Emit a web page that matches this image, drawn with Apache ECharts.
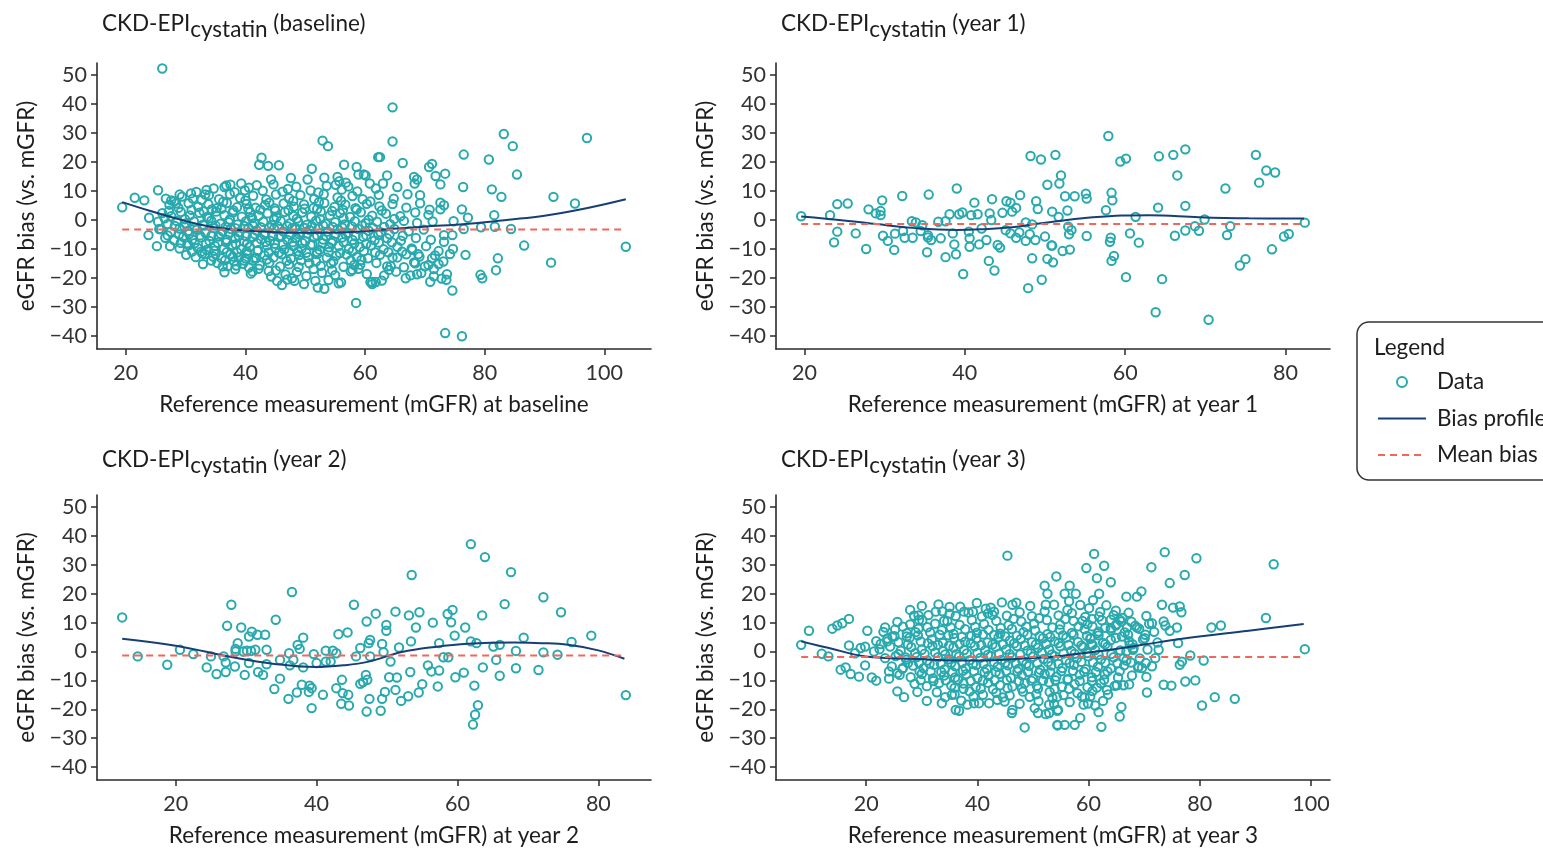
<!DOCTYPE html>
<html>
<head>
<meta charset="utf-8">
<title>CKD-EPI cystatin bias profiles</title>
<script src="https://cdn.jsdelivr.net/npm/echarts@6/dist/echarts.min.js"></script>
<style>
  html, body { margin: 0; padding: 0; background: #ffffff; }
  #chart { width: 1543px; height: 848px; }
</style>
</head>
<body>
<div id="chart"></div>
<script>
// ---- visit labels ----------------------------------------------------------
const visitLabels = ['(baseline)', '(year 1)', '(year 2)', '(year 3)'];
const xAxisTitles = [
  'Reference measurement (mGFR) at baseline',
  'Reference measurement (mGFR) at year 1',
  'Reference measurement (mGFR) at year 2',
  'Reference measurement (mGFR) at year 3'
];
const yAxisTitle = 'eGFR bias (vs. mGFR)';

// ---- tick labels -----------------------------------------------------------
const yTicks = [-40, -30, -20, -10, 0, 10, 20, 30, 40, 50];
const xTicksBaseline = [20, 40, 60, 80, 100];
const xTicksYear1 = [20, 40, 60, 80];
const xTicksYear2 = [20, 40, 60, 80];
const xTicksYear3 = [20, 40, 60, 80, 100];

// ---- [mGFR, bias] pairs per visit --------------------------------------------
const pointsBaseline = [
  [26.1,52.3],[19.4,4.4],[21.5,7.7],[23.1,6.8],[25.4,10.3],[23.9,0.8],[23.8,-5.2],[25.2,-9.0],[25.6,-3.1],
  [26.7,7.4],[27.6,6.8],[29.0,8.8],[28.4,5.7],[31.8,9.7],[33.3,8.8],[36.5,11.4],[37.5,12.2],[39.3,12.6],[39.9,10.3],
  [30.3,-8.0],[32.8,-11.5],[35.0,-11.8],[36.2,-16.0],[37.9,-12.6],[38.5,-15.7],[40.0,-13.2],[40.6,-16.4],[41.2,-17.8],
  [41.5,-13.2],[42.7,21.5],[42.3,19.1],[43.8,18.7],[45.6,18.9],[44.3,14.0],[47.6,14.5],[50.4,14.0],[51.1,17.7],
  [53.2,14.6],[52.9,27.4],[53.8,25.5],[56.5,19.1],[58.6,18.3],[58.9,15.7],[59.8,15.7],[60.1,15.4],[55.4,14.9],
  [55.7,13.4],[56.8,12.9],[55.1,12.2],[62.2,21.7],[44.3,-19.5],[46.1,-22.4],[47.8,-20.1],[48.2,-21.0],[51.7,-21.0],
  [52.1,-23.3],[53.2,-23.7],[55.6,-21.8],[58.5,-28.6],[57.9,-17.2],[58.2,-15.5],[60.9,-21.4],[61.2,-22.1],
  [64.6,38.9],[64.6,27.1],[62.5,21.7],[66.3,19.7],[70.7,18.3],[71.2,19.4],[71.8,15.2],[73.4,16.0],[72.6,12.3],
  [68.2,14.9],[68.7,14.0],[68.3,12.6],[63.7,15.4],[63.0,12.6],[61.8,10.9],[65.4,11.4],[69.2,8.6],[76.5,22.6],
  [80.7,20.9],[83.2,29.7],[84.7,25.5],[85.4,15.7],[76.4,11.4],[81.2,10.6],[82.8,8.0],[97.1,28.3],[91.5,8.0],
  [95.1,5.7],[103.6,-9.2],[86.6,-8.8],[91.1,-14.7],[82.2,-13.2],[81.9,-17.3],[79.3,-18.9],[79.6,-20.1],[76.8,-12.0],
  [74.6,-24.3],[73.6,-20.6],[73.7,-18.7],[73.4,-39.0],[76.2,-40.1],[81.6,1.7],[81.7,-2.3],[84.4,-3.1],[79.4,-2.5],
  [77.2,0.8],[76.2,3.7],[74.8,-0.4],[76.5,-3.1],[72.6,6.0],[73.2,5.1],[70.8,3.6],[72.6,3.7],[73.2,-5.2],[74.6,-5.2],
  [74.2,-11.7],[74.7,-10.0],[73.2,-7.5],[72.3,-10.7],[70.6,-15.5],[71.5,-16.9],[71.2,-13.2],[73.1,-14.3],[66.8,-20.1],
  [67.6,-19.1],[68.7,-18.7],[61.2,-21.4],[61.8,-21.4],[64.0,-17.2],[63.7,-16.0],[68.4,-14.9],[68.9,-11.8],[67.9,-10.3],
  [66.2,-10.9],[65.4,-12.9],
  [33.5,10.4],[36.8,11.9],[38.2,9.6],[40.6,11.2],[42.9,10.1],[44.7,12.3],[46.2,9.8],[48.5,11.5],[50.9,10.2],
  [53.6,11.8],[56.1,10.5],[58.7,9.9],[60.8,12.6],
  [30.9,9.2],[34.7,10.9],[41.9,12.0],[47.1,10.7],[52.2,9.5],[57.2,11.6],
  [29.4,8.1],[31.2,7.4],[33.9,8.6],[35.6,7.2],[37.4,8.9],[39.1,7.6],[41.3,8.4],[43.5,7.1],[45.1,8.8],[47.3,7.5],
  [49.2,8.6],[51.5,7.3],[53.1,8.9],[55.4,7.8],[57.9,8.3],[59.6,7.2],[62.3,8.7],[64.8,7.4],[67.1,8.9],
  [28.1,6.4],[32.7,6.9],[36.3,6.3],[40.0,6.8],[44.0,6.0],[48.0,6.6],[52.3,6.2],[56.0,6.7],[60.9,6.4],
  [27.3,5.3],[28.8,4.2],[30.5,5.8],[32.1,4.6],[33.8,5.5],[35.2,4.1],[36.9,5.9],[38.6,4.4],[40.2,5.6],[41.7,4.3],
  [43.3,5.2],[44.9,4.0],[46.4,5.7],[48.1,4.6],[49.8,5.4],[51.4,4.2],[53.2,5.9],[54.9,4.5],[56.7,5.3],[58.4,4.1],
  [60.3,5.6],[62.4,4.7],[64.6,5.5],[66.9,4.3],[69.2,5.8],
  [27.2,3.1],[33.0,3.0],[36.0,3.9],[40.5,3.8],[45.0,3.2],[49.9,3.9],[54.5,3.1],[58.6,3.6],[62.8,3.3],
  [26.1,2.4],[27.6,1.3],[29.2,2.8],[30.7,1.6],[32.3,2.5],[33.6,1.1],[35.1,2.9],[36.5,1.7],[37.9,2.6],[39.4,1.2],
  [40.8,2.7],[42.2,1.5],[43.7,2.3],[45.2,1.0],[46.6,2.8],[48.0,1.4],[49.5,2.6],[51.0,1.2],[52.6,2.9],[54.1,1.6],
  [55.8,2.4],[57.5,1.1],[59.3,2.7],[61.2,1.5],[63.5,2.2],[65.9,1.3],[68.4,2.6],[70.6,1.8],
  [31.0,3.5],[34.4,3.7],[38.0,3.3],[42.5,3.6],[47.2,3.4],[52.0,3.8],[56.3,3.5],
  [26.5,0.6],[29.9,0.3],[33.9,0.6],[37.4,0.2],[41.1,0.7],[44.8,0.1],[48.6,0.5],[52.5,0.3],[56.4,0.6],[60.6,0.1],[64.9,0.4],
  [25.4,-0.6],[27.0,-1.4],[28.5,-0.3],[30.0,-1.2],[31.4,-0.5],[32.9,-1.6],[34.3,-0.2],[35.8,-1.3],[37.2,-0.7],
  [38.7,-1.5],[40.1,-0.4],[41.5,-1.1],[43.0,-0.6],[44.4,-1.7],[45.9,-0.3],[47.4,-1.2],[48.8,-0.5],[50.3,-1.6],
  [51.8,-0.2],[53.4,-1.3],[55.0,-0.7],[56.6,-1.5],[58.3,-0.4],[60.1,-1.1],[62.0,-0.6],[64.2,-1.4],[66.5,-0.3],
  [68.7,-1.0],[71.3,-0.5],
  [29.8,-2.2],[33.1,-1.9],[36.7,-2.4],[39.8,-2.0],[42.6,-2.5],[45.4,-2.1],[48.3,-2.6],[51.1,-2.0],[54.6,-2.4],
  [57.8,-2.2],[61.3,-2.7],
  [28.2,-2.0],[31.5,-2.6],[35.0,-1.9],[38.3,-2.8],[41.2,-1.8],[44.0,-2.6],[47.0,-2.1],[49.9,-2.7],[53.0,-1.9],
  [56.2,-2.6],[59.5,-1.9],[63.2,-2.4],
  [25.9,-3.2],[27.5,-4.1],[29.0,-2.9],[30.4,-3.8],[31.9,-3.3],[33.3,-4.4],[34.8,-2.8],[36.2,-3.9],[37.6,-3.1],
  [39.0,-4.2],[40.5,-2.7],[41.9,-3.6],[43.3,-4.5],[44.8,-3.0],[46.3,-3.9],[47.8,-2.8],[49.2,-4.3],[50.7,-3.4],
  [52.2,-2.9],[53.8,-4.0],[55.4,-3.2],[57.1,-4.4],[58.8,-3.0],[60.6,-3.7],[62.6,-4.2],[64.9,-3.1],[67.3,-3.9],
  [69.8,-3.3],
  [28.9,-5.0],[32.4,-5.3],[35.9,-4.8],[38.9,-5.4],[41.6,-4.9],[44.6,-5.5],[47.5,-5.1],[50.4,-4.7],[53.5,-5.6],
  [56.8,-5.0],[60.2,-5.3],[64.1,-4.9],
  [27.0,-5.3],[30.6,-4.8],[34.3,-5.5],[37.3,-4.7],[40.1,-5.6],[43.1,-5.0],[46.0,-5.6],[49.0,-4.9],[52.0,-5.3],
  [55.1,-4.8],[58.4,-5.6],[62.2,-5.1],[66.3,-5.4],
  [26.6,-6.1],[28.1,-7.0],[29.6,-5.8],[31.1,-6.7],[32.6,-6.0],[34.0,-7.2],[35.5,-5.7],[36.9,-6.8],[38.3,-6.2],
  [39.8,-7.4],[41.2,-5.9],[42.6,-6.6],[44.1,-7.1],[45.6,-5.8],[47.0,-6.9],[48.5,-6.1],[50.0,-7.3],[51.5,-5.9],
  [53.0,-6.7],[54.6,-7.2],[56.2,-6.0],[57.9,-6.9],[59.7,-5.8],[61.6,-7.0],[63.7,-6.3],[66.0,-7.1],[68.5,-6.2],
  [71.0,-6.8],
  [31.5,-8.0],[35.4,-7.8],[38.4,-8.3],[41.9,-7.9],[44.9,-8.2],[47.9,-7.7],[51.2,-8.4],[54.4,-7.9],[58.2,-8.1],
  [62.3,-7.8],
  [29.2,-7.9],[33.4,-8.2],[36.8,-7.7],[40.3,-8.1],[43.4,-7.6],[46.3,-8.4],[49.5,-7.9],[52.9,-8.0],[56.4,-7.6],
  [60.2,-8.3],[64.5,-7.7],
  [27.4,-9.0],[29.0,-9.8],[30.5,-8.7],[32.0,-9.6],[33.5,-10.3],[34.9,-8.9],[36.4,-9.9],[37.8,-8.6],[39.3,-10.1],
  [40.7,-9.2],[42.1,-10.4],[43.6,-8.8],[45.0,-9.7],[46.5,-10.2],[48.0,-9.0],[49.4,-9.9],[50.9,-8.7],[52.4,-10.3],
  [54.0,-9.4],[55.6,-8.9],[57.3,-10.0],[59.1,-9.3],[61.0,-8.8],[63.1,-10.1],[65.4,-9.2],[67.8,-9.8],[70.2,-9.0],
  [32.6,-10.9],[36.9,-11.1],[40.2,-10.8],[43.9,-11.2],[47.3,-10.9],[50.2,-11.3],[53.9,-11.0],[57.9,-10.8],[61.7,-11.2],
  [31.1,-10.9],[34.8,-10.6],[38.6,-11.2],[42.0,-10.7],[45.6,-11.3],[48.8,-10.8],[52.0,-11.0],[55.8,-11.4],
  [59.8,-10.7],[63.9,-11.1],
  [30.1,-12.0],[31.7,-12.8],[33.2,-11.7],[34.6,-12.6],[36.0,-13.2],[37.5,-11.9],[38.9,-12.9],[40.3,-11.6],
  [41.8,-13.1],[43.2,-12.2],[44.7,-12.9],[46.1,-11.8],[47.6,-13.3],[49.0,-12.1],[50.5,-12.8],[52.0,-11.7],
  [53.6,-13.0],[55.2,-12.3],[56.9,-11.9],[58.6,-12.7],[60.5,-13.2],[62.5,-12.0],[64.6,-12.9],[66.9,-11.8],
  [69.1,-12.6],[71.7,-12.2],
  [34.3,-14.0],[38.1,-14.2],[41.3,-13.9],[46.9,-14.1],[51.8,-14.3],[57.6,-13.9],
  [36.6,-13.9],[39.8,-14.0],[43.6,-13.6],[49.3,-13.9],[54.7,-14.2],[59.4,-13.8],
  [32.9,-15.2],[35.3,-14.8],[37.0,-15.9],[39.6,-15.1],[42.4,-15.6],[44.0,-14.7],[45.8,-16.0],[47.3,-15.3],
  [48.9,-16.2],[50.7,-14.9],[52.6,-15.8],[54.3,-15.0],[56.4,-16.1],[59.2,-15.4],[61.9,-14.8],[64.3,-15.9],
  [66.5,-16.3],[68.2,-14.6],[70.0,-16.0],[72.3,-15.2],
  [38.3,-17.0],[42.2,-16.8],[45.1,-17.4],[51.4,-16.9],[54.5,-17.3],[58.9,-16.8],
  [36.5,-18.0],[40.9,-18.5],[43.9,-17.6],[46.7,-18.8],[48.6,-17.9],[50.2,-19.3],[52.8,-18.2],[55.0,-19.0],
  [57.6,-17.7],[60.3,-18.6],[63.2,-19.1],[65.2,-17.8],[69.4,-18.3],[71.5,-19.4],
  [45.3,-21.0],[47.0,-20.5],[49.8,-22.1],[53.9,-20.7],[56.0,-21.5],[62.8,-20.9],[70.9,-21.3],[72.8,-20.2]
];

const pointsYear1 = [
  [19.6,1.3],[23.2,1.7],[24.1,5.5],[25.4,5.7],[24.1,-4.0],[23.7,-7.7],[26.4,-4.6],[27.7,-10.0],[28.0,3.7],
  [28.9,2.3],[29.5,3.1],[29.5,1.7],[29.7,6.8],[29.8,-5.4],[30.4,-7.2],[31.3,-4.7],[31.2,-10.3],[32.2,8.3],
  [32.5,-6.1],[33.5,-6.1],[32.3,-3.8],[33.4,-0.4],[33.9,-0.8],[34.7,-1.8],[34.5,-3.8],[35.4,-5.2],[35.8,-6.9],
  [35.4,-6.0],[37.0,-6.3],[36.7,-0.6],[37.6,-0.4],[38.1,2.0],[39.3,2.0],[39.7,2.6],[40.8,1.7],[41.6,2.0],
  [35.5,8.8],[39.0,10.9],[35.3,-11.1],[37.6,-12.8],[38.9,-11.8],[39.8,-18.6],[38.5,-4.6],[38.7,-8.4],[40.5,-4.0],
  [40.6,-6.3],[40.6,-9.2],[41.8,-8.4],[41.2,6.0],[42.1,-2.9],[42.7,-6.9],[43.0,-14.1],[43.7,-17.4],[44.1,-8.6],
  [44.4,-9.5],[43.1,2.3],[43.3,0.0],[43.4,7.2],[44.7,2.5],[45.2,6.5],[45.7,6.0],[45.9,2.9],[46.4,4.2],[46.9,8.6],
  [45.1,-3.5],[45.7,-4.6],[46.4,-6.1],[46.8,-4.3],[47.6,-7.2],[47.6,-0.8],[48.4,-1.5],[48.1,-4.9],[48.8,-6.9],
  [48.9,6.5],[49.1,3.8],[50.0,-5.7],[50.8,-8.8],[50.9,2.9],[48.2,22.1],[49.5,20.9],[51.3,22.5],[50.3,12.2],
  [48.4,-13.2],[50.3,-13.4],[51.0,-14.6],[49.6,-20.6],[47.9,-23.5],
  [57.9,29.0],[59.4,20.2],[60.1,21.2],[64.2,22.0],[66.0,22.5],[67.5,24.4],[66.5,15.4],[76.3,22.5],[77.6,17.1],
  [78.7,16.4],[76.7,12.9],[72.5,10.9],[52.0,15.4],[51.8,12.6],[52.5,8.2],[53.7,8.2],[55.1,9.1],[55.2,7.4],
  [58.3,9.4],[58.4,6.8],[51.7,1.1],[52.8,3.3],[57.6,3.4],[61.3,1.1],[64.1,4.3],[67.5,4.9],[69.9,0.2],[68.7,-2.1],
  [69.2,-3.7],[67.5,-3.6],[66.2,-5.4],[73.1,-2.1],[72.7,-5.2],[82.4,-0.9],[80.4,-4.8],[79.8,-5.7],[78.3,-10.1],
  [75.0,-13.5],[74.3,-15.7],[60.6,-4.6],[61.7,-7.8],[55.2,-5.5],[53.0,-4.9],[53.3,-3.5],[52.9,-2.3],[50.9,-8.8],
  [52.2,-10.7],[53.1,-10.2],[58.2,-6.1],[58.1,-7.5],[58.6,-12.4],[58.3,-14.1],[60.1,-19.7],[64.6,-20.4],
  [63.8,-31.8],[70.4,-34.4]
];

const pointsYear2 = [
  [12.4,11.8],[14.6,-1.7],[18.8,-4.6],[20.6,0.6],[22.5,-0.9],[24.4,-5.5],[25.8,-7.8],[27.1,-7.1],[27.1,-3.8],
  [28.4,-5.2],[25.0,-1.7],[26.8,-1.7],[27.3,8.9],[27.9,16.2],[29.3,8.3],[28.8,2.9],[28.5,0.9],[28.5,0.0],[29.6,0.0],
  [30.1,0.3],[30.7,0.2],[31.3,0.6],[30.4,5.2],[30.8,6.9],[31.6,5.8],[32.7,5.8],[32.9,0.6],[30.4,-4.0],[29.8,-8.1],
  [31.7,-7.1],[32.4,-8.1],[32.9,-4.4],[34.2,11.0],[34.8,-2.9],[36.1,-0.6],[36.7,-2.9],[36.2,-4.8],[36.5,20.6],
  [34.0,-13.0],[34.8,-9.4],[36.0,-16.4],[37.2,-14.2],[37.9,-11.5],[39.0,-11.8],[39.3,-12.7],[38.9,-14.0],
  [39.3,-19.6],[38.1,-5.5],[38.1,4.8],[37.3,2.3],[37.6,0.9],[39.6,-0.9],[40.0,-4.0],[40.9,-15.0],[41.3,0.3],
  [41.3,-3.5],[42.0,-3.5],[42.3,0.3],[42.8,-0.6],[43.1,6.0],[42.8,-12.7],[43.6,-9.8],[43.7,-14.4],[44.5,-15.0],
  [43.5,-18.1],[44.6,-18.7],[44.4,6.6],[45.3,16.2],[45.6,-1.7],[46.2,1.2],[47.1,10.4],[47.2,-9.8],[46.6,-10.6],
  [46.2,-11.2],[47.0,-8.1],[47.4,2.9],[47.6,4.0],[47.5,-16.4],[47.1,-20.8],[47.6,-1.7],
  [61.9,37.2],[63.9,32.7],[67.6,27.5],[53.5,26.5],[72.2,18.8],[74.7,13.6],[79.0,5.5],[76.2,3.3],[66.7,16.4],
  [63.5,12.5],[59.3,14.4],[58.6,13.0],[59.1,10.1],[56.5,10.0],[54.6,13.6],[53.1,12.5],[51.2,13.8],[48.4,13.1],
  [54.1,8.3],[61.1,8.3],[59.6,5.5],[57.4,2.9],[53.4,3.5],[49.9,9.2],[49.9,7.2],[49.3,2.6],[49.5,-0.2],[51.7,1.4],
  [61.9,3.5],[62.7,2.9],[65.1,1.7],[66.0,2.3],[69.4,4.8],[68.3,0.2],[72.2,-0.3],[74.2,-1.1],[50.5,-3.5],[58.0,-2.0],
  [58.7,-2.0],[65.5,-2.9],[55.8,-4.8],[56.3,-6.9],[57.4,-6.6],[53.3,-7.1],[50.3,-8.9],[51.4,-9.0],[59.7,-8.9],
  [60.9,-7.3],[63.6,-5.5],[66.0,-8.4],[68.3,-5.8],[71.5,-6.4],[62.4,-11.8],[57.2,-12.1],[55.0,-11.3],[54.5,-14.2],
  [49.7,-14.0],[51.2,-13.3],[52.0,-17.1],[53.0,-15.5],[49.3,-16.4],[49.1,-20.5],[62.9,-18.6],[62.5,-21.9],
  [62.2,-25.3],[83.9,-15.1]
];

const pointsYear3 = [
  [8.3,2.3],[9.7,7.2],[12.0,-0.8],[13.2,-1.7],[13.9,7.9],[14.8,9.0],[15.7,9.8],[16.9,11.3],[16.9,2.1],[18.0,-0.6],
  [19.0,1.2],[19.8,1.7],[20.2,7.2],[15.4,-6.3],[16.3,-5.5],[17.2,-7.8],[18.7,-8.7],[19.8,-4.8],[21.0,-9.0],
  [21.8,-10.1],[21.4,0.0],[23.4,8.3],[22.6,2.6],[23.8,3.5],[24.7,5.2],[24.1,-6.9],[24.1,-9.4],[25.6,-13.8],
  [26.8,-15.8],[25.6,-7.5],[27.1,-2.1],[26.6,-5.7],[27.9,14.4],[30.0,15.8],[29.4,12.5],[29.5,11.0],[27.3,5.2],
  [28.9,6.7],[32.5,13.8],[35.0,15.4],[34.0,10.6],[29.2,-14.0],[30.9,-17.1],[33.6,-17.9],[36.1,-20.2],[36.7,-20.5],
  [35.4,-15.0],[37.6,13.8],[39.2,13.8],[41.5,14.8],[42.7,12.7],[44.4,17.0],[46.3,16.2],[45.4,33.2],[38.2,-18.4],
  [39.4,-17.9],[42.1,-17.9],[43.6,-16.7],[46.3,-20.2],[46.2,-21.3],[48.5,-26.3],[50.3,-19.6],[50.9,-21.3],
  [52.3,-21.7],[52.9,-18.4],[54.4,-25.4],[54.4,-20.5],[52.1,22.8],[52.6,20.0],[54.2,26.0],[52.3,16.2],[53.8,16.2],
  [61.0,33.8],[73.7,34.4],[79.4,32.3],[93.3,30.2],[59.6,28.9],[62.8,29.7],[71.3,29.2],[61.5,25.4],[64.0,24.0],
  [77.3,26.5],[74.6,23.7],[56.6,22.8],[55.7,20.0],[57.7,20.0],[61.9,20.0],[66.8,19.0],[68.7,19.0],[69.5,20.8],
  [73.2,16.2],[75.2,15.2],[76.4,15.6],[76.7,13.6],[64.9,14.1],[60.1,15.0],[56.2,14.4],[82.1,8.3],[83.8,9.0],
  [91.9,11.6],[98.9,0.8],[75.9,8.3],[73.8,9.0],[71.4,9.8],[70.2,5.8],[70.1,4.6],[68.7,8.3],[66.9,8.3],[65.6,11.0],
  [64.0,11.0],[64.0,8.1],[61.9,12.1],[58.9,10.6],[60.7,8.7],[61.8,6.9],[60.4,4.6],[60.7,2.3],[64.0,4.0],[64.9,9.0],
  [65.9,10.4],[67.1,5.8],[67.9,2.5],[76.1,2.9],[72.6,0.6],[72.0,-2.3],[78.3,-1.4],[80.7,-3.1],[76.8,-3.5],
  [76.4,-4.6],[69.6,-5.7],[69.0,-5.2],[70.3,-4.0],[68.0,0.6],[66.3,-2.3],[66.8,0.0],[73.5,-11.5],[74.9,-11.8],
  [77.4,-10.4],[79.2,-10.0],[80.4,-18.7],[82.7,-15.8],[86.3,-16.4],[70.5,-14.2],[63.3,-13.3],[65.1,-11.7],
  [66.3,-11.7],[65.9,-19.2],[65.6,-22.5],[61.8,-21.0],[61.2,-18.7],[58.8,-15.6],[60.3,-15.6],[59.1,-18.4],
  [58.5,-23.0],[57.5,-25.4],[55.7,-25.4],[54.4,-25.6],[54.5,-20.2],[62.3,-26.1],[52.9,-21.3],[53.5,-16.1],
  [31.2,12.6],[33.7,13.9],[36.1,12.3],[38.4,13.5],[40.8,12.1],[43.0,13.8],[45.3,12.4],[47.6,13.6],[49.8,12.2],
  [52.1,13.9],[54.6,12.5],[57.0,13.3],[59.4,12.0],[62.1,13.7],[64.5,12.6],[67.2,13.4],[70.4,12.3],
  [28.6,12.4],[35.0,13.1],[41.9,13.2],[46.5,11.3],[51.1,11.5],[55.8,11.2],[60.6,11.3],[66.1,11.6],
  [25.6,10.2],[27.9,9.4],[30.1,10.8],[32.4,9.6],[34.6,10.5],[36.8,9.2],[39.0,10.9],[41.2,9.5],[43.4,10.6],
  [45.6,9.1],[47.9,10.4],[50.2,9.7],[52.5,10.9],[54.9,9.3],[57.3,10.6],[59.8,9.5],[62.4,10.8],[65.0,9.4],
  [67.7,10.3],[70.9,9.6],[73.5,10.4],
  [26.6,8.6],[31.0,8.4],[35.2,8.3],[39.6,8.5],[44.2,8.2],[48.8,8.6],[53.5,8.3],[58.2,8.7],[63.0,8.2],[68.4,8.9],
  [23.1,6.8],[25.2,7.6],[27.3,6.3],[29.4,7.9],[31.5,6.6],[33.6,7.4],[35.7,6.1],[37.8,7.7],[39.9,6.5],[42.0,7.5],
  [44.1,6.2],[46.2,7.8],[48.3,6.7],[50.4,7.3],[52.6,6.0],[54.8,7.6],[57.0,6.4],[59.3,7.7],[61.6,6.3],[64.0,7.4],
  [66.5,6.6],[69.1,7.9],[71.8,6.8],[74.6,7.2],
  [34.8,5.6],[38.9,5.4],[43.0,5.7],[47.1,5.5],[51.2,5.3],[55.4,5.6],[59.7,5.4],
  [25.1,5.3],[29.3,5.6],[33.2,5.8],[37.2,5.0],[41.0,5.9],[45.0,5.2],[49.0,5.8],[53.1,5.0],[57.3,5.8],[61.8,5.6],[66.0,5.2],
  [21.8,3.6],[23.8,4.5],[25.8,3.2],[27.8,4.8],[29.8,3.5],[31.8,4.2],[33.8,3.0],[35.8,4.7],[37.8,3.4],[39.8,4.5],
  [41.8,3.1],[43.8,4.9],[45.8,3.7],[47.8,4.3],[49.8,3.2],[51.8,4.6],[53.9,3.5],[56.0,4.8],[58.1,3.3],[60.3,4.4],
  [62.6,3.0],[64.9,4.7],[67.3,3.6],[69.8,4.2],[72.4,3.1],
  [32.9,2.3],[36.8,2.6],[40.7,2.2],[44.6,2.5],[48.5,2.1],[52.4,2.6],[56.4,2.3],[60.5,2.5],
  [27.5,2.4],[31.1,2.9],[34.9,2.0],[38.8,2.9],[42.7,2.4],[46.6,2.8],[50.5,2.4],[54.6,2.9],[58.7,2.1],[63.0,2.5],[67.4,2.3],
  [22.4,0.8],[24.3,1.7],[26.2,0.3],[28.1,1.5],[30.0,0.6],[31.9,1.9],[33.8,0.2],[35.7,1.4],[37.6,0.5],[39.5,1.8],
  [41.4,0.4],[43.3,1.6],[45.2,0.7],[47.1,1.9],[49.0,0.3],[50.9,1.3],[52.9,0.6],[54.9,1.8],[56.9,0.2],[59.0,1.5],
  [61.2,0.5],[63.4,1.7],[65.7,0.4],[68.1,1.2],[70.6,0.7],
  [30.5,-0.8],[34.2,-1.0],[38.1,-0.7],[41.9,-1.1],[45.8,-0.9],[49.6,-0.6],[53.4,-1.0],[57.5,-0.8],[61.8,-1.1],
  [25.8,-0.9],[28.8,-0.6],[32.4,-0.4],[36.2,-0.9],[40.0,-0.5],[43.9,-0.8],[47.7,-1.0],[51.6,-0.4],[55.5,-0.7],
  [59.7,-0.5],[64.1,-0.9],
  [23.4,-2.3],[25.3,-1.6],[27.2,-2.8],[29.1,-1.9],[31.0,-3.1],[32.9,-2.0],[34.8,-2.7],[36.7,-1.7],[38.6,-3.0],
  [40.5,-2.2],[42.4,-1.5],[44.3,-2.9],[46.2,-2.1],[48.1,-3.2],[50.0,-1.8],[51.9,-2.6],[53.9,-1.6],[55.9,-3.0],
  [57.9,-2.3],[60.0,-1.7],[62.2,-2.8],[64.5,-2.0],[66.8,-3.1],[69.2,-2.4],
  [29.5,-3.9],[33.4,-4.1],[37.3,-3.8],[41.1,-4.2],[45.0,-3.9],[48.8,-4.3],[52.7,-3.7],[56.6,-4.0],[60.8,-3.8],[65.2,-4.1],
  [27.5,-4.0],[31.4,-4.2],[35.3,-3.9],[39.2,-4.3],[43.0,-3.7],[46.9,-4.1],[50.8,-4.0],[54.6,-4.3],[58.7,-3.6],
  [63.0,-3.9],[67.6,-3.8],
  [24.6,-5.2],[26.5,-6.0],[28.4,-4.9],[30.3,-5.8],[32.2,-4.6],[34.1,-6.2],[36.0,-5.1],[37.9,-5.9],[39.8,-4.7],
  [41.7,-6.1],[43.6,-5.3],[45.5,-4.8],[47.4,-6.0],[49.3,-5.0],[51.3,-6.3],[53.3,-4.9],[55.3,-5.7],[57.4,-4.6],
  [59.5,-6.1],[61.7,-5.2],[64.0,-5.9],[66.4,-4.8],[68.9,-5.6],[71.4,-5.1],
  [31.6,-6.9],[35.5,-7.2],[39.4,-6.8],[43.3,-7.1],[47.2,-6.9],[51.1,-7.3],[55.1,-6.8],[59.2,-7.0],[63.4,-6.9],
  [29.6,-6.9],[33.5,-7.1],[37.4,-6.7],[41.3,-7.2],[45.2,-6.8],[49.1,-7.0],[53.1,-7.2],[57.2,-6.7],[61.3,-7.1],[65.6,-6.8],
  [26.0,-8.1],[28.0,-8.9],[30.0,-7.8],[32.0,-9.3],[34.0,-8.3],[36.0,-9.0],[38.0,-7.9],[40.0,-9.2],[42.0,-8.4],
  [44.0,-7.7],[46.0,-9.1],[48.0,-8.2],[50.0,-9.4],[52.1,-7.8],[54.2,-8.7],[56.3,-9.5],[58.4,-8.0],[60.6,-8.9],
  [62.9,-7.9],[65.3,-9.0],[67.8,-8.3],[70.4,-8.8],
  [34.3,-10.0],[38.8,-10.2],[43.1,-9.9],[47.5,-10.3],[51.8,-10.1],[56.2,-9.8],[60.6,-10.2],
  [29.8,-9.9],[32.1,-10.2],[36.5,-9.8],[41.0,-10.0],[45.3,-9.9],[49.7,-10.1],[54.0,-9.9],[58.4,-10.2],[62.8,-9.8],
  [28.7,-11.2],[30.9,-12.0],[33.1,-10.9],[35.3,-11.8],[37.5,-11.1],[39.7,-12.3],[41.9,-10.8],[44.1,-11.7],
  [46.3,-12.1],[48.5,-11.0],[50.7,-11.9],[52.9,-10.7],[55.2,-12.2],[57.5,-11.3],[59.8,-12.4],[62.2,-11.0],
  [64.7,-11.9],[67.3,-11.4],
  [37.5,-12.9],[42.8,-13.1],[48.0,-12.8],[53.9,-13.0],
  [35.9,-12.6],[40.6,-12.9],[45.4,-12.7],[50.9,-12.8],[56.5,-12.9],[61.5,-12.5],
  [32.7,-14.1],[35.9,-14.9],[38.6,-13.8],[41.0,-15.0],[43.4,-14.3],[45.8,-15.2],[48.2,-13.9],[50.6,-14.8],
  [53.0,-14.0],[55.5,-15.1],[58.0,-14.4],[60.7,-13.7],[63.5,-14.9],
  [34.2,-15.8],[39.3,-15.6],[44.6,-15.9],[49.4,-15.7],[54.3,-15.8],[59.3,-15.9],
  [37.1,-17.0],[40.3,-17.9],[44.9,-17.3],[47.6,-18.1],[51.0,-17.2],[53.8,-18.2],[56.6,-17.5],[59.9,-18.0],[62.6,-17.1],
  [33.0,16.3],[36.9,15.5],[39.9,16.8],[42.4,15.2],[47.0,16.9],[49.5,15.8],[56.5,17.4],[58.5,16.1],[60.8,17.8],[63.2,16.0]
];

// ---- smoothed bias profiles (mGFR, bias) ---------------------------------------
const profileBaseline = [[19.4,6.2],[24,3.2],[28,0.8],[32.3,-1.5],[36,-2.8],[40.7,-3.7],[45,-4.2],[49,-4.4],
  [55,-4.3],[60,-3.8],[66,-2.8],[72,-2.0],[77.3,-1.3],[84,0.1],[90,1.5],[97,4.1],[103.6,7.2]];
const profileYear1 = [[19.6,1.2],[25.2,-0.2],[29,-1.4],[33.5,-2.7],[38.9,-3.4],[42,-3.2],[45.9,-2.5],[49,-1.3],
  [51.8,-0.3],[54.7,0.6],[59.6,1.6],[63,1.7],[69.2,1.0],[75.4,0.6],[82.3,0.5]];
const profileYear2 = [[12.4,4.4],[20,2.0],[28.3,-2.1],[34,-4.3],[39.8,-5.4],[43.8,-4.8],[47.4,-3.5],[52.1,-0.2],
  [56.8,1.6],[61.5,2.7],[68.1,3.1],[72,2.9],[75.7,2.3],[80,0.4],[83.7,-2.5]];
const profileYear3 = [[8.3,3.5],[13.3,1.2],[19.9,-1.7],[29.6,-2.6],[36.1,-3.1],[43,-3.0],[49.3,-2.3],[52.9,-2.0],
  [58,-0.8],[64.9,0.9],[70,2.4],[76.8,4.4],[88.8,7.2],[98.7,9.5]];

// ---- mean bias per visit ---------------------------------------------------------
const meanBias = [-3.3, -1.4, -1.4, -1.9];

// ---- styling -------------------------------------------------------------------
const FONT = 'Lato, "Open Sans", sans-serif';
const TEAL = '#27a9ae';
const NAVY = '#173f75';
const SALMON = '#f0675c';
const AXIS = '#2b2b2b';
const INK = '#1d1d1d';

const panels = [
  { points: pointsBaseline, profile: profileBaseline, ticks: xTicksBaseline, grid: { left: 97, top: 63 }, titleTop: 7 },
  { points: pointsYear1, profile: profileYear1, ticks: xTicksYear1, grid: { left: 776, top: 63 }, titleTop: 7 },
  { points: pointsYear2, profile: profileYear2, ticks: xTicksYear2, grid: { left: 97, top: 495 }, titleTop: 443 },
  { points: pointsYear3, profile: profileYear3, ticks: xTicksYear3, grid: { left: 776, top: 495 }, titleTop: 443 }
];

const Y_MIN = -44.5, Y_MAX = 54.2;

const grids = [], xAxes = [], yAxes = [], series = [], titles = [];

panels.forEach((p, i) => {
  const xs = p.points.map(d => d[0]);
  const lo = Math.min(...xs), hi = Math.max(...xs);
  const pad = (hi - lo) * 0.05;

  grids.push({ left: p.grid.left, top: p.grid.top, width: 554, height: 286 });

  xAxes.push({
    gridIndex: i, type: 'value', min: lo - pad, max: hi + pad,
    axisLine: { show: true, onZero: false, lineStyle: { color: AXIS, width: 1.6 } },
    axisTick: { show: true, length: 6, lineStyle: { color: AXIS, width: 1.5 }, customValues: p.ticks },
    axisLabel: { fontFamily: FONT, fontSize: 21.5, color: '#333', margin: 13, customValues: p.ticks },
    splitLine: { show: false },
    name: xAxisTitles[i], nameLocation: 'middle', nameGap: 44,
    nameTextStyle: { fontFamily: FONT, fontSize: 22.5, color: INK }
  });

  yAxes.push({
    gridIndex: i, type: 'value', min: Y_MIN, max: Y_MAX,
    axisLine: { show: true, onZero: false, lineStyle: { color: AXIS, width: 1.6 } },
    axisTick: { show: true, length: 6, lineStyle: { color: AXIS, width: 1.5 }, customValues: yTicks },
    axisLabel: { fontFamily: FONT, fontSize: 21.5, color: '#333', margin: 10, customValues: yTicks,
      formatter: v => (v < 0 ? '\u2212' + Math.abs(v) : String(v)) },
    splitLine: { show: false },
    name: yAxisTitle, nameLocation: 'middle', nameGap: 59,
    nameTextStyle: { fontFamily: FONT, fontSize: 22.5, color: INK }
  });

  titles.push({
    text: '{m|CKD-EPI}{s|cystatin}{m| ' + visitLabels[i] + '}',
    left: p.grid.left, top: p.titleTop,
    textStyle: {
      fontWeight: 'normal',
      rich: {
        m: { fontFamily: FONT, fontSize: 22.5, fontWeight: 'normal', lineHeight: 26, color: INK, verticalAlign: 'top' },
        s: { fontFamily: FONT, fontSize: 22.5, fontWeight: 'normal', lineHeight: 26, color: INK, verticalAlign: 'top', padding: [6, 0, 0, 0] }
      }
    }
  });

  series.push({
    name: 'Data', type: 'scatter', xAxisIndex: i, yAxisIndex: i,
    data: p.points, symbol: 'circle', symbolSize: 8.4, z: 2,
    itemStyle: { color: 'rgba(255,255,255,0)', borderColor: TEAL, borderWidth: 2, opacity: 1 },
    emphasis: { disabled: true }
  });
  series.push({
    name: 'Bias profile', type: 'line', xAxisIndex: i, yAxisIndex: i,
    data: p.profile, smooth: 0.4, symbol: 'none', z: 3,
    lineStyle: { color: NAVY, width: 2 }
  });
  series.push({
    name: 'Mean bias', type: 'line', xAxisIndex: i, yAxisIndex: i,
    data: [[lo, meanBias[i]], [hi, meanBias[i]]], symbol: 'none', z: 4,
    lineStyle: { color: SALMON, width: 2, type: [7, 5] }
  });
});

const hiddenSymbol = { color: 'rgba(0,0,0,0)', borderWidth: 0, opacity: 0 };

const chart = echarts.init(document.getElementById('chart'), null, { renderer: 'canvas' });
chart.setOption({
  animation: false,
  backgroundColor: '#ffffff',
  textStyle: { fontFamily: FONT },
  title: titles,
  grid: grids,
  xAxis: xAxes,
  yAxis: yAxes,
  legend: {
    orient: 'vertical', left: 1377, top: 370, itemWidth: 48, itemHeight: 10, itemGap: 12.5,
    padding: 0, selectedMode: false,
    textStyle: { fontFamily: FONT, fontSize: 22.5, lineHeight: 24, color: INK, padding: [0, 0, 0, 6] },
    data: [
      { name: 'Data', icon: 'circle', itemStyle: { color: '#ffffff', borderColor: TEAL, borderWidth: 2 } },
      { name: 'Bias profile', itemStyle: hiddenSymbol, lineStyle: { color: NAVY, width: 2 } },
      { name: 'Mean bias', itemStyle: hiddenSymbol, lineStyle: { color: SALMON, width: 2, type: [7, 5] } }
    ]
  },
  graphic: [
    { type: 'rect', z: -1, shape: { x: 1357, y: 322, width: 260, height: 158, r: 12 },
      style: { fill: '#ffffff', stroke: '#333333', lineWidth: 1.5 } },
    { type: 'text', x: 1374, y: 336, style: { text: 'Legend', fontFamily: FONT, fontSize: 22.5, fill: INK } }
  ],
  series: series
});
</script>
</body>
</html>
